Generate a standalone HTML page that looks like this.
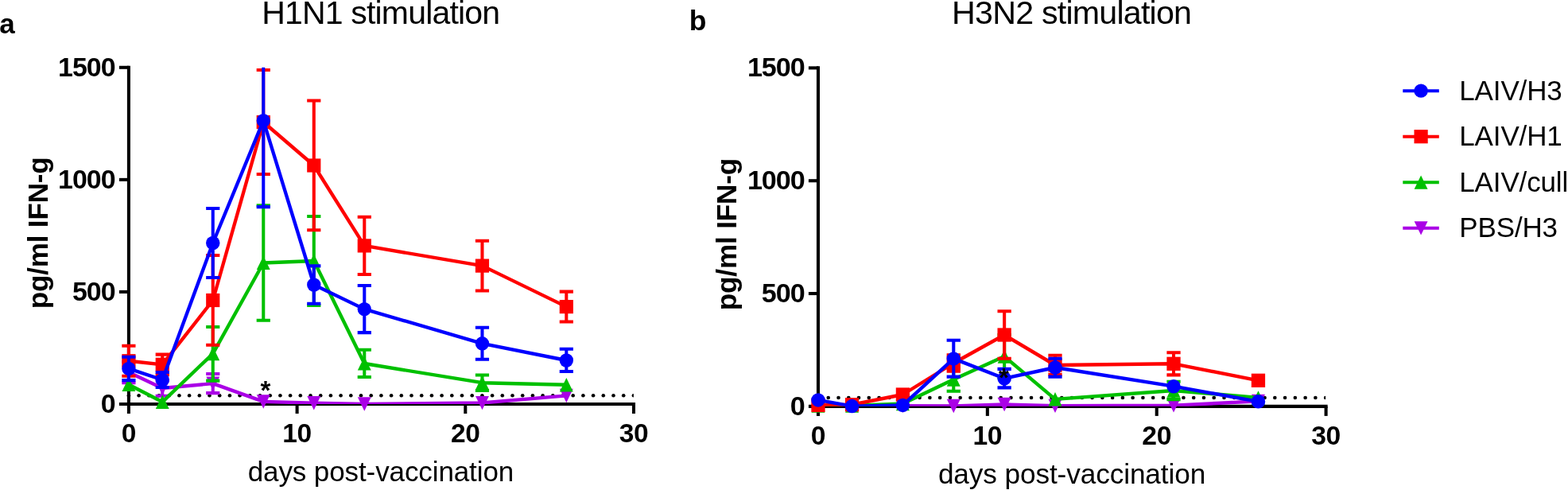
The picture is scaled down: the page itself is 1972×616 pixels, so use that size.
<!DOCTYPE html>
<html lang="en">
<head>
<meta charset="utf-8">
<title>IFN-g response after H1N1 and H3N2 stimulation</title>
<style>
html,body{margin:0;padding:0;background:#fff;}
body{width:1972px;height:616px;overflow:hidden;}
svg{display:block;}
svg text{font-family:"Liberation Sans",Arial,Helvetica,sans-serif;fill:#000;}
</style>
</head>
<body>
<svg width="1972" height="616" viewBox="0 0 1972 616">
<rect width="1972" height="616" fill="#fff"/>
<clipPath id="plot1"><rect x="0" y="84.8" width="1972" height="423.2"/></clipPath>
<g stroke="#000" stroke-width="4.05" fill="none">
<path d="M161.9 82.77V520"/>
<path d="M149.9 508H799.02"/>
<path d="M149.9 366.93H161.9"/>
<path d="M149.9 225.87H161.9"/>
<path d="M149.9 84.8H161.9"/>
<path d="M373.6 508V520"/>
<path d="M585.3 508V520"/>
<path d="M797 508V520"/>
</g>
<g fill="#000">
<circle cx="161.9" cy="497.25" r="2.3"/>
<circle cx="174.6" cy="497.25" r="2.3"/>
<circle cx="187.3" cy="497.25" r="2.3"/>
<circle cx="200" cy="497.25" r="2.3"/>
<circle cx="212.7" cy="497.25" r="2.3"/>
<circle cx="225.4" cy="497.25" r="2.3"/>
<circle cx="238.1" cy="497.25" r="2.3"/>
<circle cx="250.8" cy="497.25" r="2.3"/>
<circle cx="263.5" cy="497.25" r="2.3"/>
<circle cx="276.2" cy="497.25" r="2.3"/>
<circle cx="288.9" cy="497.25" r="2.3"/>
<circle cx="301.6" cy="497.25" r="2.3"/>
<circle cx="314.3" cy="497.25" r="2.3"/>
<circle cx="327" cy="497.25" r="2.3"/>
<circle cx="339.7" cy="497.25" r="2.3"/>
<circle cx="352.4" cy="497.25" r="2.3"/>
<circle cx="365.1" cy="497.25" r="2.3"/>
<circle cx="377.8" cy="497.25" r="2.3"/>
<circle cx="390.5" cy="497.25" r="2.3"/>
<circle cx="403.2" cy="497.25" r="2.3"/>
<circle cx="415.9" cy="497.25" r="2.3"/>
<circle cx="428.6" cy="497.25" r="2.3"/>
<circle cx="441.3" cy="497.25" r="2.3"/>
<circle cx="454" cy="497.25" r="2.3"/>
<circle cx="466.7" cy="497.25" r="2.3"/>
<circle cx="479.4" cy="497.25" r="2.3"/>
<circle cx="492.1" cy="497.25" r="2.3"/>
<circle cx="504.8" cy="497.25" r="2.3"/>
<circle cx="517.5" cy="497.25" r="2.3"/>
<circle cx="530.2" cy="497.25" r="2.3"/>
<circle cx="542.9" cy="497.25" r="2.3"/>
<circle cx="555.6" cy="497.25" r="2.3"/>
<circle cx="568.3" cy="497.25" r="2.3"/>
<circle cx="581" cy="497.25" r="2.3"/>
<circle cx="593.7" cy="497.25" r="2.3"/>
<circle cx="606.4" cy="497.25" r="2.3"/>
<circle cx="619.1" cy="497.25" r="2.3"/>
<circle cx="631.8" cy="497.25" r="2.3"/>
<circle cx="644.5" cy="497.25" r="2.3"/>
<circle cx="657.2" cy="497.25" r="2.3"/>
<circle cx="669.9" cy="497.25" r="2.3"/>
<circle cx="682.6" cy="497.25" r="2.3"/>
<circle cx="695.3" cy="497.25" r="2.3"/>
<circle cx="708" cy="497.25" r="2.3"/>
<circle cx="720.7" cy="497.25" r="2.3"/>
<circle cx="733.4" cy="497.25" r="2.3"/>
<circle cx="746.1" cy="497.25" r="2.3"/>
<circle cx="758.8" cy="497.25" r="2.3"/>
<circle cx="771.5" cy="497.25" r="2.3"/>
<circle cx="784.2" cy="497.25" r="2.3"/>
<path d="M796.9 494.95A2.3 2.3 0 0 0 796.9 499.55Z"/>
</g>
<g stroke="#aa00e6" fill="#aa00e6">
<path clip-path="url(#plot1)" stroke-width="4.05" fill="none" d="M161.9 454.75V481.25M153.3 454.75H170.5M153.3 481.25H170.5M204.24 478.25V497.75M195.64 478.25H212.84M195.64 497.75H212.84M267.75 470V494.1M259.15 470H276.35M259.15 494.1H276.35"/>
<path clip-path="url(#plot1)" stroke-width="4.37" fill="none" stroke-linejoin="round" d="M161.9 468L204.24 488L267.75 482.1L331.26 504.9L394.77 506.7L458.28 507.9L606.47 506.5L712.32 497.4"/>
<path stroke="none" d="M161.9 476.75L170.35 459.4H153.45Z"/>
<path stroke="none" d="M204.24 496.75L212.69 479.4H195.79Z"/>
<path stroke="none" d="M267.75 490.85L276.2 473.5H259.3Z"/>
<path stroke="none" d="M331.26 513.65L339.71 496.3H322.81Z"/>
<path stroke="none" d="M394.77 515.45L403.22 498.1H386.32Z"/>
<path stroke="none" d="M458.28 516.65L466.73 499.3H449.83Z"/>
<path stroke="none" d="M606.47 515.25L614.92 497.9H598.02Z"/>
<path stroke="none" d="M712.32 506.15L720.77 488.8H703.87Z"/>
</g>
<g stroke="#00c000" fill="#00c000">
<path clip-path="url(#plot1)" stroke-width="4.05" fill="none" d="M267.75 410.9V478.6M259.15 410.9H276.35M259.15 478.6H276.35M331.26 258.3V402.7M322.66 258.3H339.86M322.66 402.7H339.86M394.77 271.9V384M386.17 271.9H403.37M386.17 384H403.37M458.28 439.7V473.9M449.68 439.7H466.88M449.68 473.9H466.88M606.47 471.4V491M597.87 471.4H615.07M597.87 491H615.07"/>
<path clip-path="url(#plot1)" stroke-width="4.37" fill="none" stroke-linejoin="round" d="M161.9 483.5L204.24 505.3L267.75 444.6L331.26 330.5L394.77 328L458.28 457L606.47 481.2L712.32 483.8"/>
<path stroke="none" d="M161.9 474.75L170.35 492.1H153.45Z"/>
<path stroke="none" d="M204.24 496.55L212.69 513.9H195.79Z"/>
<path stroke="none" d="M267.75 435.85L276.2 453.2H259.3Z"/>
<path stroke="none" d="M331.26 321.75L339.71 339.1H322.81Z"/>
<path stroke="none" d="M394.77 319.25L403.22 336.6H386.32Z"/>
<path stroke="none" d="M458.28 448.25L466.73 465.6H449.83Z"/>
<path stroke="none" d="M606.47 472.45L614.92 489.8H598.02Z"/>
<path stroke="none" d="M712.32 475.05L720.77 492.4H703.87Z"/>
</g>
<g stroke="#ff0000" fill="#ff0000">
<path clip-path="url(#plot1)" stroke-width="4.05" fill="none" d="M161.9 434.75V472.75M153.3 434.75H170.5M153.3 472.75H170.5M204.24 445.6V471.25M195.64 445.6H212.84M195.64 471.25H212.84M267.75 320.9V433.8M259.15 320.9H276.35M259.15 433.8H276.35M331.26 88V219M322.66 88H339.86M322.66 219H339.86M394.77 126.5V289.3M386.17 126.5H403.37M386.17 289.3H403.37M458.28 272.8V345M449.68 272.8H466.88M449.68 345H466.88M606.47 302.7V365.5M597.87 302.7H615.07M597.87 365.5H615.07M712.32 366.6V404.5M703.72 366.6H720.92M703.72 404.5H720.92"/>
<path clip-path="url(#plot1)" stroke-width="4.37" fill="none" stroke-linejoin="round" d="M161.9 453.75L204.24 458.3L267.75 377.5L331.26 153.5L394.77 208L458.28 308.9L606.47 334.1L712.32 385.6"/>
<rect stroke="none" x="153.3" y="445.15" width="17.2" height="17.2"/>
<rect stroke="none" x="195.64" y="449.7" width="17.2" height="17.2"/>
<rect stroke="none" x="259.15" y="368.9" width="17.2" height="17.2"/>
<rect stroke="none" x="322.66" y="144.9" width="17.2" height="17.2"/>
<rect stroke="none" x="386.17" y="199.4" width="17.2" height="17.2"/>
<rect stroke="none" x="449.68" y="300.3" width="17.2" height="17.2"/>
<rect stroke="none" x="597.87" y="325.5" width="17.2" height="17.2"/>
<rect stroke="none" x="703.72" y="377" width="17.2" height="17.2"/>
</g>
<g stroke="#0000ff" fill="#0000ff">
<path clip-path="url(#plot1)" stroke-width="4.05" fill="none" d="M161.9 448.75V478.1M153.3 448.75H170.5M153.3 478.1H170.5M204.24 467.9V486.9M195.64 467.9H212.84M195.64 486.9H212.84M267.75 262V349M259.15 262H276.35M259.15 349H276.35M331.26 43V260.1M322.66 43H339.86M322.66 260.1H339.86M394.77 334.2V381.7M386.17 334.2H403.37M386.17 381.7H403.37M458.28 359V418.1M449.68 359H466.88M449.68 418.1H466.88M606.47 411.7V451.7M597.87 411.7H615.07M597.87 451.7H615.07M712.32 438.7V466.9M703.72 438.7H720.92M703.72 466.9H720.92"/>
<path clip-path="url(#plot1)" stroke-width="4.37" fill="none" stroke-linejoin="round" d="M161.9 463.4L204.24 477.5L267.75 305.5L331.26 151.7L394.77 358L458.28 388.6L606.47 431.8L712.32 453"/>
<circle stroke="none" cx="161.9" cy="463.4" r="8.7"/>
<circle stroke="none" cx="204.24" cy="477.5" r="8.7"/>
<circle stroke="none" cx="267.75" cy="305.5" r="8.7"/>
<circle stroke="none" cx="331.26" cy="151.7" r="8.7"/>
<circle stroke="none" cx="394.77" cy="358" r="8.7"/>
<circle stroke="none" cx="458.28" cy="388.6" r="8.7"/>
<circle stroke="none" cx="606.47" cy="431.8" r="8.7"/>
<circle stroke="none" cx="712.32" cy="453" r="8.7"/>
</g>
<clipPath id="plot2"><rect x="0" y="85.4" width="1972" height="425.45"/></clipPath>
<g stroke="#000" stroke-width="4.07" fill="none">
<path d="M1028.97 83.36V522.91"/>
<path d="M1016.91 510.85H1669.65"/>
<path d="M1016.91 369.03H1028.97"/>
<path d="M1016.91 227.22H1028.97"/>
<path d="M1016.91 85.4H1028.97"/>
<path d="M1241.85 510.85V522.91"/>
<path d="M1454.73 510.85V522.91"/>
<path d="M1667.61 510.85V522.91"/>
</g>
<g fill="#000">
<circle cx="1028.97" cy="500" r="2.31"/>
<circle cx="1041.73" cy="500" r="2.31"/>
<circle cx="1054.5" cy="500" r="2.31"/>
<circle cx="1067.26" cy="500" r="2.31"/>
<circle cx="1080.02" cy="500" r="2.31"/>
<circle cx="1092.79" cy="500" r="2.31"/>
<circle cx="1105.55" cy="500" r="2.31"/>
<circle cx="1118.31" cy="500" r="2.31"/>
<circle cx="1131.08" cy="500" r="2.31"/>
<circle cx="1143.84" cy="500" r="2.31"/>
<circle cx="1156.61" cy="500" r="2.31"/>
<circle cx="1169.37" cy="500" r="2.31"/>
<circle cx="1182.13" cy="500" r="2.31"/>
<circle cx="1194.9" cy="500" r="2.31"/>
<circle cx="1207.66" cy="500" r="2.31"/>
<circle cx="1220.42" cy="500" r="2.31"/>
<circle cx="1233.19" cy="500" r="2.31"/>
<circle cx="1245.95" cy="500" r="2.31"/>
<circle cx="1258.71" cy="500" r="2.31"/>
<circle cx="1271.48" cy="500" r="2.31"/>
<circle cx="1284.24" cy="500" r="2.31"/>
<circle cx="1297" cy="500" r="2.31"/>
<circle cx="1309.77" cy="500" r="2.31"/>
<circle cx="1322.53" cy="500" r="2.31"/>
<circle cx="1335.29" cy="500" r="2.31"/>
<circle cx="1348.06" cy="500" r="2.31"/>
<circle cx="1360.82" cy="500" r="2.31"/>
<circle cx="1373.58" cy="500" r="2.31"/>
<circle cx="1386.35" cy="500" r="2.31"/>
<circle cx="1399.11" cy="500" r="2.31"/>
<circle cx="1411.88" cy="500" r="2.31"/>
<circle cx="1424.64" cy="500" r="2.31"/>
<circle cx="1437.4" cy="500" r="2.31"/>
<circle cx="1450.17" cy="500" r="2.31"/>
<circle cx="1462.93" cy="500" r="2.31"/>
<circle cx="1475.69" cy="500" r="2.31"/>
<circle cx="1488.46" cy="500" r="2.31"/>
<circle cx="1501.22" cy="500" r="2.31"/>
<circle cx="1513.98" cy="500" r="2.31"/>
<circle cx="1526.75" cy="500" r="2.31"/>
<circle cx="1539.51" cy="500" r="2.31"/>
<circle cx="1552.27" cy="500" r="2.31"/>
<circle cx="1565.04" cy="500" r="2.31"/>
<circle cx="1577.8" cy="500" r="2.31"/>
<circle cx="1590.56" cy="500" r="2.31"/>
<circle cx="1603.33" cy="500" r="2.31"/>
<circle cx="1616.09" cy="500" r="2.31"/>
<circle cx="1628.85" cy="500" r="2.31"/>
<circle cx="1641.62" cy="500" r="2.31"/>
<circle cx="1654.38" cy="500" r="2.31"/>
<path d="M1667.14 497.69A2.31 2.31 0 0 0 1667.14 502.31Z"/>
</g>
<g stroke="#aa00e6" fill="#aa00e6">
<path clip-path="url(#plot2)" stroke-width="4.4" fill="none" stroke-linejoin="round" d="M1028.97 510L1071.55 510.5L1135.41 510.3L1199.27 510.5L1263.14 508.5L1327 510.3L1476.02 509.7L1582.46 504.4"/>
<path stroke="none" d="M1028.97 518.79L1037.46 501.36H1020.48Z"/>
<path stroke="none" d="M1071.55 519.29L1080.04 501.86H1063.05Z"/>
<path stroke="none" d="M1135.41 519.09L1143.9 501.66H1126.92Z"/>
<path stroke="none" d="M1199.27 519.29L1207.77 501.86H1190.78Z"/>
<path stroke="none" d="M1263.14 517.29L1271.63 499.86H1254.65Z"/>
<path stroke="none" d="M1327 519.09L1335.49 501.66H1318.51Z"/>
<path stroke="none" d="M1476.02 518.49L1484.51 501.06H1467.53Z"/>
<path stroke="none" d="M1582.46 513.19L1590.95 495.76H1573.97Z"/>
</g>
<g stroke="#00c000" fill="#00c000">
<path clip-path="url(#plot2)" stroke-width="4.07" fill="none" d="M1199.27 462.5V491.75M1190.63 462.5H1207.92M1190.63 491.75H1207.92M1263.14 421V475M1254.49 421H1271.78M1254.49 475H1271.78M1476.02 479.8V502.1M1467.38 479.8H1484.66M1467.38 502.1H1484.66"/>
<path clip-path="url(#plot2)" stroke-width="4.4" fill="none" stroke-linejoin="round" d="M1028.97 510.2L1071.55 510L1135.41 507.5L1199.27 477L1263.14 448L1327 501.9L1476.02 491L1582.46 500"/>
<path stroke="none" d="M1028.97 501.41L1037.46 518.84H1020.48Z"/>
<path stroke="none" d="M1071.55 501.21L1080.04 518.64H1063.05Z"/>
<path stroke="none" d="M1135.41 498.71L1143.9 516.14H1126.92Z"/>
<path stroke="none" d="M1199.27 468.21L1207.77 485.64H1190.78Z"/>
<path stroke="none" d="M1263.14 439.21L1271.63 456.64H1254.65Z"/>
<path stroke="none" d="M1327 493.11L1335.49 510.54H1318.51Z"/>
<path stroke="none" d="M1476.02 482.21L1484.51 499.64H1467.53Z"/>
<path stroke="none" d="M1582.46 491.21L1590.95 508.64H1573.97Z"/>
</g>
<g stroke="#ff0000" fill="#ff0000">
<path clip-path="url(#plot2)" stroke-width="4.07" fill="none" d="M1199.27 446.3V466.7M1190.63 446.3H1207.92M1190.63 466.7H1207.92M1263.14 391.2V450.7M1254.49 391.2H1271.78M1254.49 450.7H1271.78M1327 446.8V470.9M1318.36 446.8H1335.64M1318.36 470.9H1335.64M1476.02 443.2V471.4M1467.38 443.2H1484.66M1467.38 471.4H1484.66"/>
<path clip-path="url(#plot2)" stroke-width="4.4" fill="none" stroke-linejoin="round" d="M1028.97 509.4L1071.55 508.75L1135.41 496L1199.27 456.5L1263.14 421L1327 459L1476.02 457.3L1582.46 478.3"/>
<rect stroke="none" x="1020.33" y="500.76" width="17.29" height="17.29"/>
<rect stroke="none" x="1062.9" y="500.11" width="17.29" height="17.29"/>
<rect stroke="none" x="1126.77" y="487.36" width="17.29" height="17.29"/>
<rect stroke="none" x="1190.63" y="447.86" width="17.29" height="17.29"/>
<rect stroke="none" x="1254.49" y="412.36" width="17.29" height="17.29"/>
<rect stroke="none" x="1318.36" y="450.36" width="17.29" height="17.29"/>
<rect stroke="none" x="1467.38" y="448.66" width="17.29" height="17.29"/>
<rect stroke="none" x="1573.82" y="469.66" width="17.29" height="17.29"/>
</g>
<g stroke="#0000ff" fill="#0000ff">
<path clip-path="url(#plot2)" stroke-width="4.07" fill="none" d="M1199.27 427.8V473.6M1190.63 427.8H1207.92M1190.63 473.6H1207.92M1263.14 463.9V487.4M1254.49 463.9H1271.78M1254.49 487.4H1271.78M1327 450.7V473.6M1318.36 450.7H1335.64M1318.36 473.6H1335.64"/>
<path clip-path="url(#plot2)" stroke-width="4.4" fill="none" stroke-linejoin="round" d="M1028.97 502.9L1071.55 510.6L1135.41 509.4L1199.27 450.9L1263.14 475.8L1327 462L1476.02 485.7L1582.46 504.8"/>
<circle stroke="none" cx="1028.97" cy="502.9" r="8.74"/>
<circle stroke="none" cx="1071.55" cy="510.6" r="8.74"/>
<circle stroke="none" cx="1135.41" cy="509.4" r="8.74"/>
<circle stroke="none" cx="1199.27" cy="450.9" r="8.74"/>
<circle stroke="none" cx="1263.14" cy="475.8" r="8.74"/>
<circle stroke="none" cx="1327" cy="462" r="8.74"/>
<circle stroke="none" cx="1476.02" cy="485.7" r="8.74"/>
<circle stroke="none" cx="1582.46" cy="504.8" r="8.74"/>
</g>
<g stroke="#0000ff" fill="#0000ff"><path stroke-width="4" d="M1764.3 114.15H1809.8"/><circle stroke="none" cx="1787.1" cy="114.15" r="8.7"/></g>
<g stroke="#ff0000" fill="#ff0000"><path stroke-width="4" d="M1764.3 171.7H1809.8"/><rect stroke="none" x="1778.5" y="163.1" width="17.2" height="17.2"/></g>
<g stroke="#00c000" fill="#00c000"><path stroke-width="4" d="M1764.3 229.25H1809.8"/><path stroke="none" d="M1787.1 220.5L1795.55 237.85H1778.65Z"/></g>
<g stroke="#aa00e6" fill="#aa00e6"><path stroke-width="4" d="M1764.3 286.8H1809.8"/><path stroke="none" d="M1787.1 295.55L1795.55 278.2H1778.65Z"/></g>
<text x="329.2" y="30" font-size="41" text-anchor="start" letter-spacing="-0.82">H1N1 stimulation</text>
<text x="1197.1" y="30.3" font-size="41.2" text-anchor="start" letter-spacing="-0.78">H3N2 stimulation</text>
<text x="-0.8" y="42" font-size="35" font-weight="bold" text-anchor="start">a</text>
<text x="866.8" y="37.7" font-size="35.5" font-weight="bold" text-anchor="start">b</text>
<text x="144.5" y="518.7" font-size="33.9" font-weight="bold" text-anchor="end" letter-spacing="-1">0</text>
<text x="1011.7" y="521.65" font-size="34.1" font-weight="bold" text-anchor="end" letter-spacing="-1">0</text>
<text x="144.5" y="377.63" font-size="33.9" font-weight="bold" text-anchor="end" letter-spacing="-1">500</text>
<text x="1011.7" y="379.83" font-size="34.1" font-weight="bold" text-anchor="end" letter-spacing="-1">500</text>
<text x="144.5" y="236.57" font-size="33.9" font-weight="bold" text-anchor="end" letter-spacing="-1">1000</text>
<text x="1011.7" y="238.02" font-size="34.1" font-weight="bold" text-anchor="end" letter-spacing="-1">1000</text>
<text x="144.5" y="95.5" font-size="33.9" font-weight="bold" text-anchor="end" letter-spacing="-1">1500</text>
<text x="1011.7" y="96.2" font-size="34.1" font-weight="bold" text-anchor="end" letter-spacing="-1">1500</text>
<text x="161.8" y="555.8" font-size="33.5" font-weight="bold" text-anchor="middle" letter-spacing="-0.4">0</text>
<text x="1028.9" y="558.5" font-size="33.7" font-weight="bold" text-anchor="middle" letter-spacing="-0.4">0</text>
<text x="373.5" y="555.8" font-size="33.5" font-weight="bold" text-anchor="middle" letter-spacing="-0.4">10</text>
<text x="1241.78" y="558.5" font-size="33.7" font-weight="bold" text-anchor="middle" letter-spacing="-0.4">10</text>
<text x="585.2" y="555.8" font-size="33.5" font-weight="bold" text-anchor="middle" letter-spacing="-0.4">20</text>
<text x="1454.66" y="558.5" font-size="33.7" font-weight="bold" text-anchor="middle" letter-spacing="-0.4">20</text>
<text x="796.9" y="555.8" font-size="33.5" font-weight="bold" text-anchor="middle" letter-spacing="-0.4">30</text>
<text x="1667.54" y="558.5" font-size="33.7" font-weight="bold" text-anchor="middle" letter-spacing="-0.4">30</text>
<text x="311.7" y="605.1" font-size="35" text-anchor="start" letter-spacing="-0.1">days post-vaccination</text>
<text x="1179.9" y="608.3" font-size="35.2" text-anchor="start" letter-spacing="-0.1">days post-vaccination</text>
<text transform="translate(59.9 388.3) rotate(-90)" font-size="35" font-weight="bold" letter-spacing="-0.15">pg/ml IFN-g</text>
<text transform="translate(926 390.3) rotate(-90)" font-size="35.2" font-weight="bold" letter-spacing="-0.19">pg/ml IFN-g</text>
<text x="333.9" y="502.3" font-size="33" font-weight="bold" text-anchor="middle">*</text>
<text x="1262.4" y="486.3" font-size="33" font-weight="bold" text-anchor="middle">*</text>
<text x="1835.3" y="125.7" font-size="35" text-anchor="start" letter-spacing="-0.15">LAIV/H3</text>
<text x="1835.3" y="183.25" font-size="35" text-anchor="start" letter-spacing="-0.15">LAIV/H1</text>
<text x="1835.3" y="240.8" font-size="35" text-anchor="start" letter-spacing="-0.15">LAIV/cull</text>
<text x="1835.3" y="298.35" font-size="35" text-anchor="start" letter-spacing="-0.15">PBS/H3</text>
</svg>
</body>
</html>
